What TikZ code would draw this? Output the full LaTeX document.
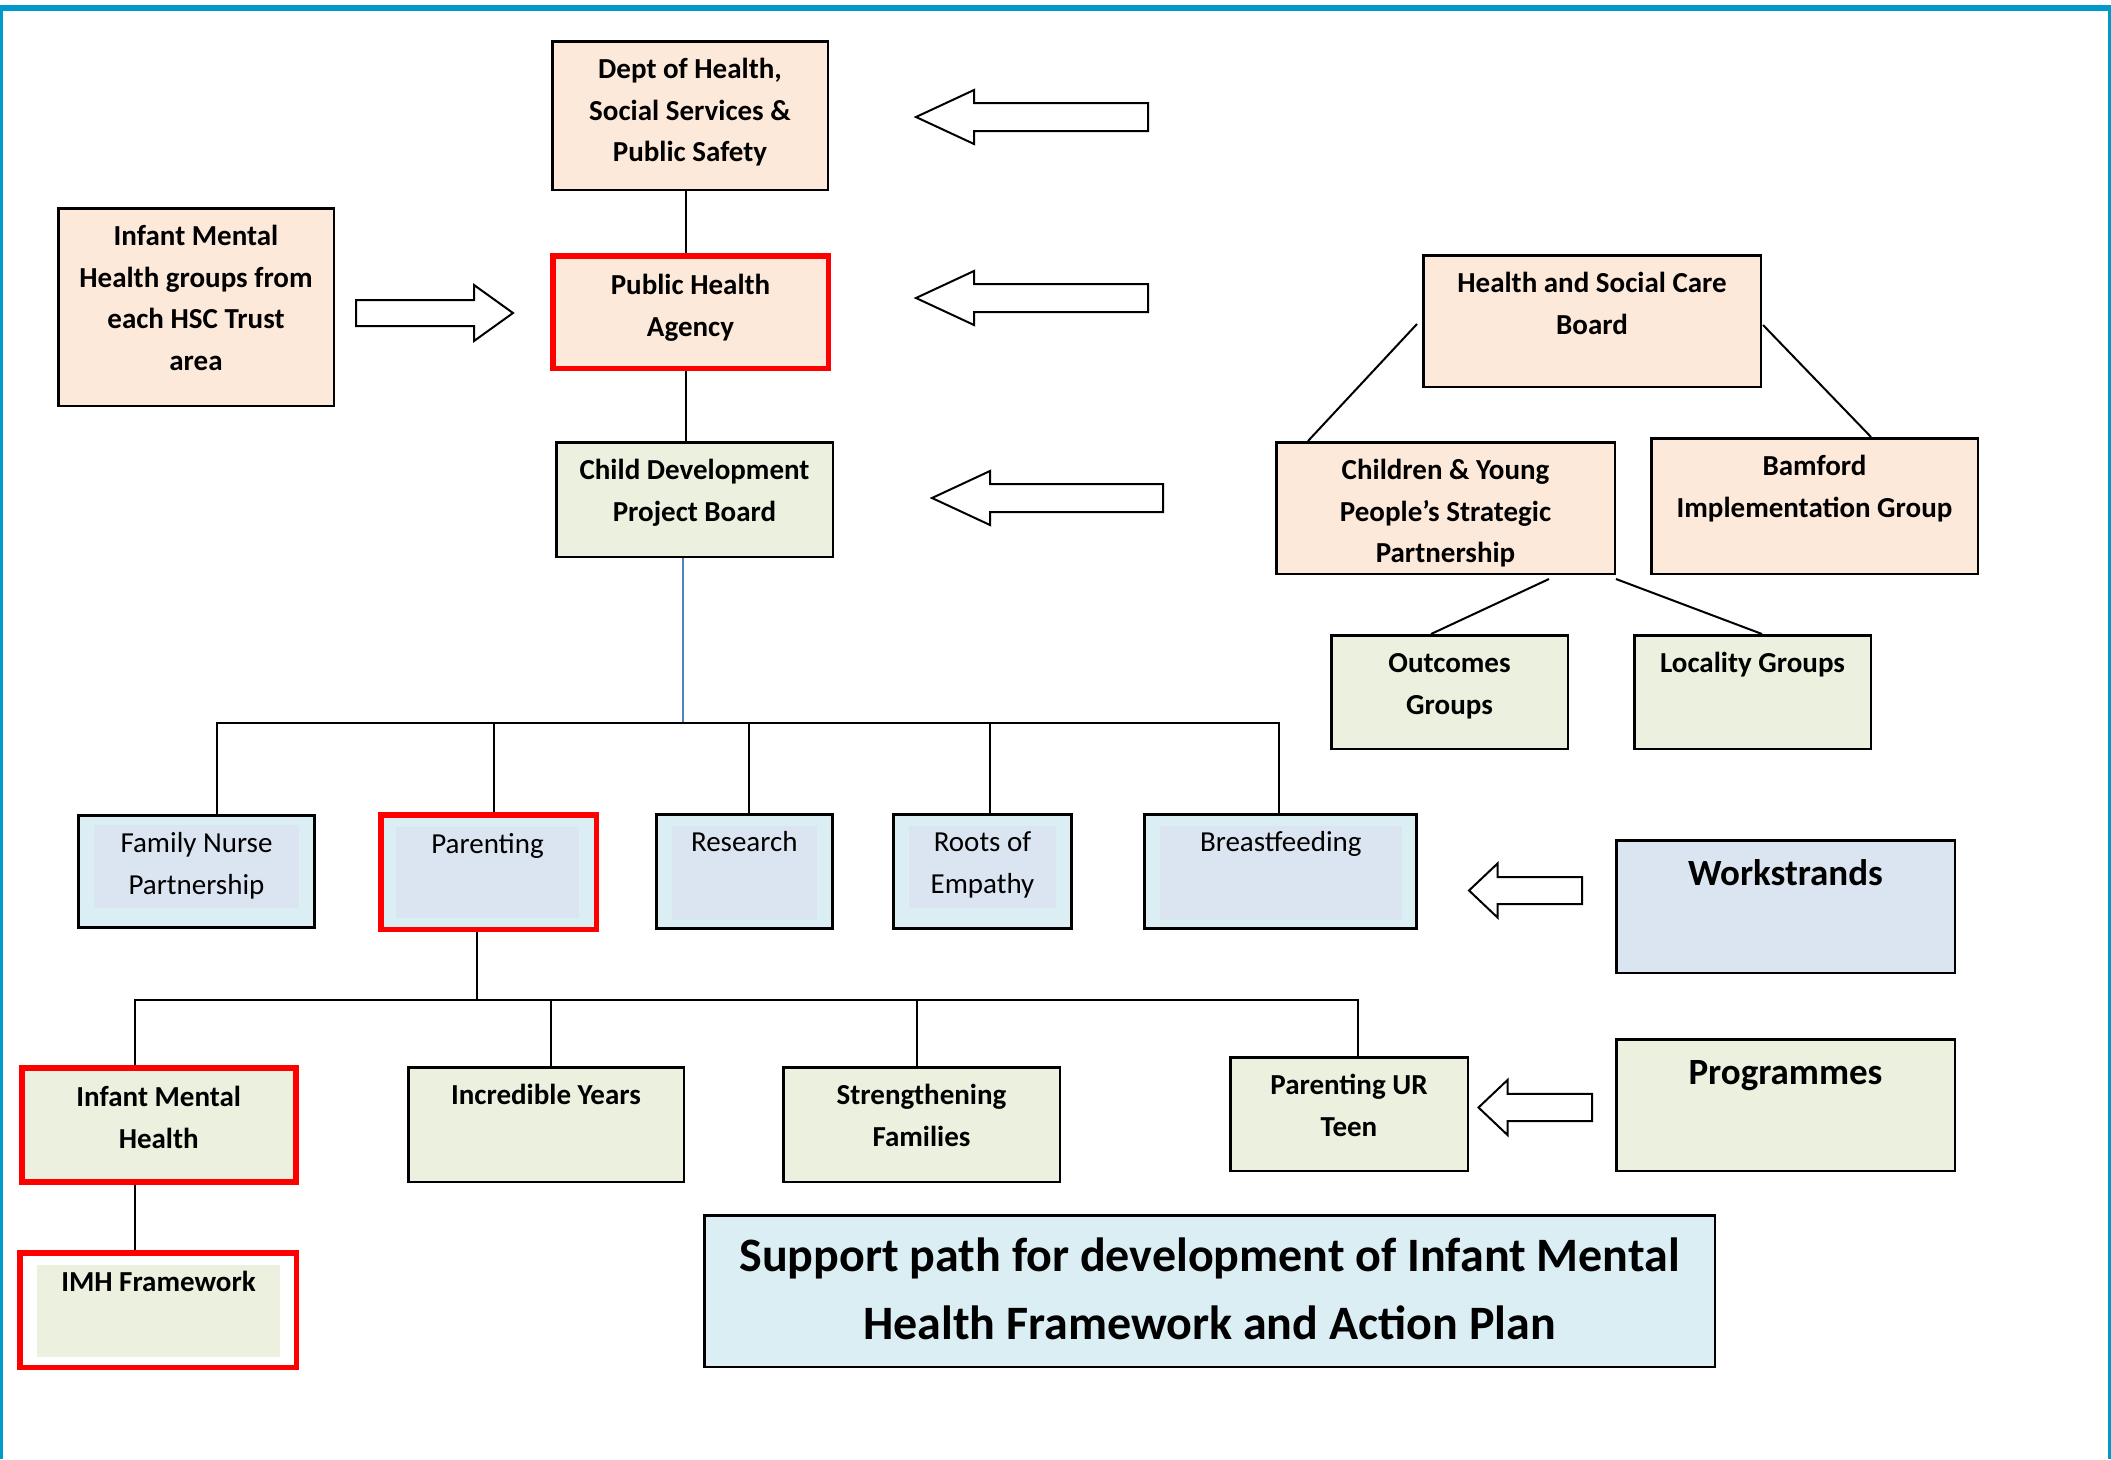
\documentclass[tikz,border=0pt]{standalone}
\usepackage{fontspec}
\setmainfont{Carlito}
\usetikzlibrary{calc}
\definecolor{peach}{HTML}{FDE9D9}
\definecolor{lgreen}{HTML}{EBF1DE}
\definecolor{aqua}{HTML}{DAEEF3}
\definecolor{lav}{HTML}{DBE5F1}
\definecolor{redc}{HTML}{FF0000}
\definecolor{frameblue}{HTML}{0099CC}
\definecolor{lineblue}{HTML}{4F81BD}
\newcommand\blkarrow[6]{% tipx, y, basex, endx, shafthalf, headhalf
  \draw[blk] (#1,#2) -- (#3,#2-#6) -- (#3,#2-#5) -- (#4,#2-#5) -- (#4,#2+#5) -- (#3,#2+#5) -- (#3,#2+#6) -- cycle;}
\begin{document}
\begin{tikzpicture}[x=1pt,y=-1pt,
  box/.style={draw=black, line width=2.5, inner sep=0, anchor=north west},
  redbox/.style={draw=redc, line width=5.5, inner sep=0, anchor=north west},
  wsbox/.style={draw=black, line width=3, inner sep=0, anchor=north west, fill=aqua},
  inbox/.style={draw=none, inner sep=0, outer sep=0, anchor=north west},
  txt/.style={inner sep=0, align=center, anchor=north, yshift=-9.5, font=\fontsize{29}{41.5}\selectfont\bfseries},
  rtxt/.style={txt, font=\fontsize{29}{41.5}\selectfont},
  redtxt/.style={yshift=-3},
  bigtxt/.style={txt, font=\fontsize{37}{53}\selectfont\bfseries},
  titletxt/.style={txt, font=\fontsize{48}{68}\selectfont\bfseries},
  conn/.style={draw=black, line width=2},
  blk/.style={draw=black, fill=white, line width=2, line join=miter}]
\useasboundingbox (0,0) rectangle (2111,1459);
\fill[white] (0,0) rectangle (2111,1459);
% frame
\fill[frameblue] (0,5) rectangle (2111,11);
\fill[frameblue] (0,5) rectangle (3,1459);
\fill[frameblue] (2108,5) rectangle (2111,1459);

% top column
\node[box, fill=peach, minimum width=275.5, minimum height=148.5] (dept) at (551,40) {};
\node[txt] (dept-t) at (dept.north) {\strut Dept of Health,\\Social Services \&\\Public Safety};
\node[redbox, fill=peach, minimum width=275.5, minimum height=112.5] (pha) at (550,253) {};
\node[txt, redtxt] (pha-t) at (pha.north) {\strut Public Health\\Agency};
\node[box, fill=peach, minimum width=275.5, minimum height=197.5] (imhg) at (57,207) {};
\node[txt] (imhg-t) at (imhg.north) {\strut Infant Mental\\Health groups from\\each HSC Trust\\area};
\node[box, fill=lgreen, minimum width=276.5, minimum height=114.5] (cdpb) at (555,441) {};
\node[txt] (cdpb-t) at (cdpb.north) {\strut Child Development\\Project Board};

% right group
\node[box, fill=peach, minimum width=337.5, minimum height=131.5] (hsc) at (1422,254) {};
\node[txt] (hsc-t) at (hsc.north) {\strut Health and Social Care\\Board};
\node[box, fill=peach, minimum width=338.5, minimum height=131.5] (cypsp) at (1275,441) {};
\node[txt] (cypsp-t) at (cypsp.north) {\strut Children \& Young\\People’s Strategic\\Partnership};
\node[box, fill=peach, minimum width=326.5, minimum height=135.5] (bam) at (1650,437) {};
\node[txt] (bam-t) at (bam.north) {\strut Bamford\\Implementation Group};
\node[box, fill=lgreen, minimum width=236.5, minimum height=113.5] (outc) at (1330,634) {};
\node[txt] (outc-t) at (outc.north) {\strut Outcomes\\Groups};
\node[box, fill=lgreen, minimum width=236.5, minimum height=113.5] (loc) at (1633,634) {};
\node[txt] (loc-t) at (loc.north) {\strut Locality Groups};

% workstrands
\node[wsbox, minimum width=236, minimum height=112] (fnp) at (77,814) {};
\node[inbox, fill=lav, minimum width=205, minimum height=83] (fnpin) at (94,825) {};
\node[rtxt] (fnp-t) at (fnpin.north |- fnp.north) {\strut Family Nurse\\Partnership};
\node[redbox, fill=aqua, minimum width=215.5, minimum height=114.5] (par) at (378,812) {};
\node[inbox, fill=lav, minimum width=183, minimum height=91] (parin) at (396,827) {};
\node[rtxt, redtxt] (par-t) at (parin.north |- par.north) {\strut Parenting};
\node[wsbox, minimum width=176, minimum height=114] (res) at (655,813) {};
\node[inbox, fill=lav, minimum width=145.5, minimum height=94] (resin) at (671.5,825.5) {};
\node[rtxt] (res-t) at (resin.north |- res.north) {\strut Research};
\node[wsbox, minimum width=178, minimum height=114] (roots) at (892,813) {};
\node[inbox, fill=lav, minimum width=147, minimum height=82.5] (rootsin) at (909,825.5) {};
\node[rtxt] (roots-t) at (rootsin.north |- roots.north) {\strut Roots of\\Empathy};
\node[wsbox, minimum width=272, minimum height=114] (breast) at (1143,813) {};
\node[inbox, fill=lav, minimum width=241.5, minimum height=94] (breastin) at (1160,825.5) {};
\node[rtxt] (breast-t) at (breastin.north |- breast.north) {\strut Breastfeeding};
\node[box, fill=lav, minimum width=338.5, minimum height=132.5] (wsl) at (1615,839) {};
\node[bigtxt] (wsl-t) at (wsl.north) {\strut Workstrands};

% programmes
\node[redbox, fill=lgreen, minimum width=274, minimum height=114] (imh) at (19,1065) {};
\node[txt, redtxt] (imh-t) at (imh.north) {\strut Infant Mental\\Health};
\node[box, fill=lgreen, minimum width=275.5, minimum height=114.5] (iy) at (407,1066) {};
\node[txt] (iy-t) at (iy.north) {\strut Incredible Years};
\node[box, fill=lgreen, minimum width=276.5, minimum height=114.5] (sf) at (782,1066) {};
\node[txt] (sf-t) at (sf.north) {\strut Strengthening\\Families};
\node[box, fill=lgreen, minimum width=237.5, minimum height=113.5] (purt) at (1229,1056) {};
\node[txt] (purt-t) at (purt.north) {\strut Parenting UR\\Teen};
\node[box, fill=lgreen, minimum width=338.5, minimum height=131.5] (prog) at (1615,1038) {};
\node[bigtxt] (prog-t) at (prog.north) {\strut Programmes};
\node[redbox, fill=white, minimum width=276.5, minimum height=114.5] (imhf) at (17,1250) {};
\node[inbox, fill=lgreen, minimum width=243, minimum height=92] (imhfin) at (37,1265) {};
\node[txt, redtxt] (imhf-t) at (imhfin.north |- imhf.north) {\strut IMH Framework};

% title
\node[box, fill=aqua, minimum width=1010.5, minimum height=151.5] (title) at (703,1214) {};
\node[titletxt] (title-t) at (title.north) {\strut Support path for development of Infant Mental\\Health Framework and Action Plan};

% connectors
\draw[conn] ([xshift=-4.5]dept.south) -- ([xshift=-4.5]dept.south |- pha.north);
\draw[conn] ([xshift=-5]pha.south) -- ([xshift=-5]pha.south |- cdpb.north);
\coordinate (bus1) at (0,723);
\coordinate (bus2) at (0,1000);
\draw[draw=lineblue, line width=2] ([xshift=-11.5]cdpb.south) -- ([xshift=-11.5]cdpb.south |- bus1);
\draw[conn] ([xshift=20.5]fnp.north) -- ([xshift=20.5]fnp.north |- bus1) -- ([xshift=-1.5]breast.north |- bus1) -- ([xshift=-1.5]breast.north);
\draw[conn] ([xshift=5.5]par.north) -- ([xshift=5.5]par.north |- bus1);
\draw[conn] ([xshift=4]res.north) -- ([xshift=4]res.north |- bus1);
\draw[conn] ([xshift=7]roots.north) -- ([xshift=7]roots.north |- bus1);
\draw[conn] ([xshift=-11.5]par.south) -- ([xshift=-11.5]par.south |- bus2);
\draw[conn] ([xshift=-23.75]imh.north) -- ([xshift=-23.75]imh.north |- bus2) -- ([xshift=8.5]purt.north |- bus2) -- ([xshift=8.5]purt.north);
\draw[conn] ([xshift=5]iy.north) -- ([xshift=5]iy.north |- bus2);
\draw[conn] ([xshift=-4.5]sf.north) -- ([xshift=-4.5]sf.north |- bus2);
\draw[conn] ([xshift=-23.75]imh.south) -- ([xshift=-23.75]imh.south |- imhf.north);
\draw[conn] ([xshift=-5,yshift=-3]hsc.west) -- ([xshift=33]cypsp.north west);
\draw[conn] ([xshift=1,yshift=-4]hsc.east) -- ([xshift=56.5]bam.north);
\draw[conn] ([xshift=103.5,yshift=-4]cypsp.south) -- ([xshift=-18.5]outc.north);
\draw[conn] ([yshift=-4]cypsp.south east) -- ([xshift=9.5]loc.north);

% block arrows
\blkarrow{916}{117}{974}{1148}{14}{27}
\blkarrow{916}{298}{974}{1148}{14}{27}
\blkarrow{932}{498}{990}{1163}{14}{27}
\blkarrow{513}{313}{474}{356}{13}{28}
\blkarrow{1469}{890.5}{1497.5}{1582}{13.5}{27}
\blkarrow{1478.5}{1107.5}{1507.5}{1592}{13.7}{27.5}
\end{tikzpicture}
\end{document}
